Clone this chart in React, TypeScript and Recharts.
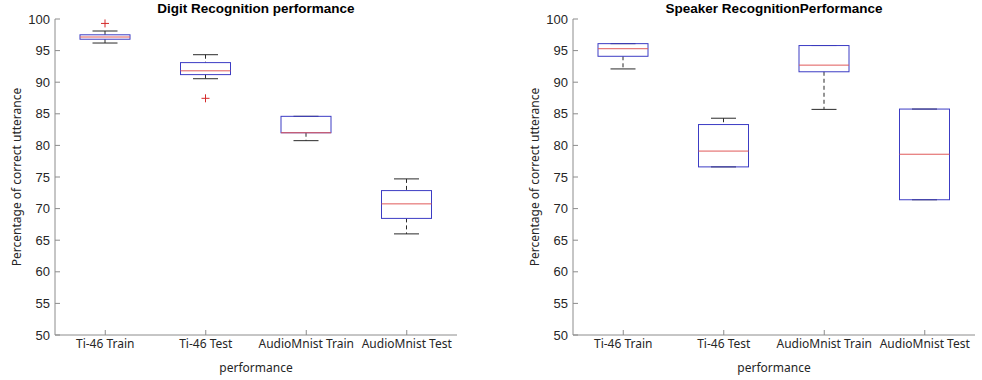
import React from 'react';
import { ComposedChart, Bar, XAxis, YAxis } from 'recharts';

const categories = ['Ti-46 Train', 'Ti-46 Test', 'AudioMnist Train', 'AudioMnist Test'];
const yTicks = [50, 55, 60, 65, 70, 75, 80, 85, 90, 95, 100];

// Digit Recognition performance
const digitMin = [96.2, 90.55, 80.75, 66.0];
const digitQ1 = [96.8, 91.2, 82.0, 68.45];
const digitMedian = [97.15, 91.8, 82.0, 70.75];
const digitQ3 = [97.5, 93.1, 84.6, 72.85];
const digitMax = [98.1, 94.35, 84.6, 74.7];
const digitOutliers = [[99.3], [87.45], [], []];

// Speaker RecognitionPerformance
const speakerMin = [92.1, 76.6, 85.7, 71.4];
const speakerQ1 = [94.1, 76.6, 91.65, 71.4];
const speakerMedian = [95.3, 79.1, 92.7, 78.6];
const speakerQ3 = [96.1, 83.3, 95.8, 85.75];
const speakerMax = [96.1, 84.3, 95.8, 85.75];
const speakerOutliers = [[], [], [], []];

const AXIS = '#8c8c8c';
const TEXT = '#262626';
const BOX = '#3c3cc4';
const MEDIAN = '#e05a5a';
const WHISKER = '#2a2a2a';

function buildRows(mins: number[], q1: number[], med: number[], q3: number[], maxs: number[], out: number[][]) {
  return categories.map((name, i) => {
    const all = [mins[i], maxs[i], ...out[i]];
    return {
      name,
      min: mins[i],
      q1: q1[i],
      median: med[i],
      q3: q3[i],
      max: maxs[i],
      outliers: out[i],
      range: [Math.min(...all), Math.max(...all)],
    };
  });
}

const digitRows = buildRows(digitMin, digitQ1, digitMedian, digitQ3, digitMax, digitOutliers);
const speakerRows = buildRows(speakerMin, speakerQ1, speakerMedian, speakerQ3, speakerMax, speakerOutliers);

function BoxShape(props: any) {
  const { x, y, width, height, payload } = props;
  const [lo, hi] = payload.range;
  const py = (v: number) => y + (height * (hi - v)) / (hi - lo);
  const cx = x + width / 2;
  const cap = width / 4;
  const yMax = py(payload.max);
  const yMin = py(payload.min);
  const yQ3 = py(payload.q3);
  const yQ1 = py(payload.q1);
  const yMed = py(payload.median);
  return (
    <g>
      {yQ3 > yMax + 0.5 && (
        <line x1={cx} x2={cx} y1={yMax} y2={yQ3} stroke={WHISKER} strokeDasharray="4 3" />
      )}
      {yMin > yQ1 + 0.5 && (
        <line x1={cx} x2={cx} y1={yQ1} y2={yMin} stroke={WHISKER} strokeDasharray="4 3" />
      )}
      <line x1={cx - cap} x2={cx + cap} y1={yMax} y2={yMax} stroke={WHISKER} />
      <line x1={cx - cap} x2={cx + cap} y1={yMin} y2={yMin} stroke={WHISKER} />
      <rect x={x} y={yQ3} width={width} height={yQ1 - yQ3} fill="none" stroke={BOX} />
      <line x1={x} x2={x + width} y1={yMed} y2={yMed} stroke={MEDIAN} />
      {payload.outliers.map((v: number, k: number) => {
        const oy = py(v);
        return (
          <g key={k}>
            <line x1={cx - 4} x2={cx + 4} y1={oy} y2={oy} stroke="#d42a2a" />
            <line x1={cx} x2={cx} y1={oy - 4} y2={oy + 4} stroke="#d42a2a" />
          </g>
        );
      })}
    </g>
  );
}

const emptyTick = () => <g />;

function BoxChart({ rows, left, width, marginLeft, marginRight }: any) {
  return (
    <div style={{ position: 'absolute', left, top: 0 }}>
      <ComposedChart
        width={width}
        height={380}
        data={rows}
        margin={{ top: 19, right: marginRight, bottom: 15, left: marginLeft }}
      >
        <XAxis
          dataKey="name"
          type="category"
          stroke={AXIS}
          tickSize={-5}
          tickMargin={9}
          height={30}
          tick={{ fill: TEXT, fontSize: 12, fontFamily: 'Noto Sans' }}
          interval={0}
        />
        <XAxis
          xAxisId="top"
          dataKey="name"
          orientation="top"
          stroke={AXIS}
          tickSize={-5}
          height={0}
          tick={emptyTick}
          interval={0}
        />
        <YAxis
          type="number"
          domain={[50, 100]}
          ticks={yTicks}
          width={30}
          stroke={AXIS}
          tickSize={-5}
          tickMargin={10}
          interval={0}
          tick={{ fill: TEXT, fontSize: 13, fontFamily: 'Liberation Sans' }}
        />
        <YAxis
          yAxisId="right"
          orientation="right"
          type="number"
          domain={[50, 100]}
          ticks={yTicks}
          width={0}
          stroke={AXIS}
          tickSize={-5}
          interval={0}
          tick={emptyTick}
        />
        <Bar dataKey="range" barSize={50} shape={<BoxShape />} isAnimationActive={false} />
      </ComposedChart>
    </div>
  );
}

const labelFont = { fontFamily: 'Noto Sans', fontSize: 12, color: TEXT, whiteSpace: 'nowrap' as const };
const titleFont = { fontFamily: 'Liberation Sans', fontSize: 13.5, fontWeight: 700, color: '#000', whiteSpace: 'nowrap' as const };

function Centered({ x, y, rotate, style, children }: any) {
  return (
    <div
      style={{
        position: 'absolute',
        left: x,
        top: y,
        transform: `translate(-50%, -50%)${rotate ? ' rotate(-90deg)' : ''}`,
        lineHeight: 1,
        ...style,
      }}
    >
      {children}
    </div>
  );
}

export default function App() {
  return (
    <div style={{ position: 'absolute', left: 0, top: 0, width: 982, height: 380, background: '#fff', overflow: 'hidden' }}>
      <BoxChart rows={digitRows} left={0} width={490} marginLeft={25} marginRight={33} />
      <BoxChart rows={speakerRows} left={500} width={482} marginLeft={43} marginRight={7} />
      <Centered x={256} y={9} style={titleFont}>Digit Recognition performance</Centered>
      <Centered x={774} y={9} style={titleFont}>Speaker RecognitionPerformance</Centered>
      <Centered x={256} y={368} style={labelFont}>performance</Centered>
      <Centered x={774} y={368} style={labelFont}>performance</Centered>
      <Centered x={17} y={177} rotate style={labelFont}>Percentage of correct utterance</Centered>
      <Centered x={535} y={177} rotate style={labelFont}>Percentage of correct utterance</Centered>
    </div>
  );
}
